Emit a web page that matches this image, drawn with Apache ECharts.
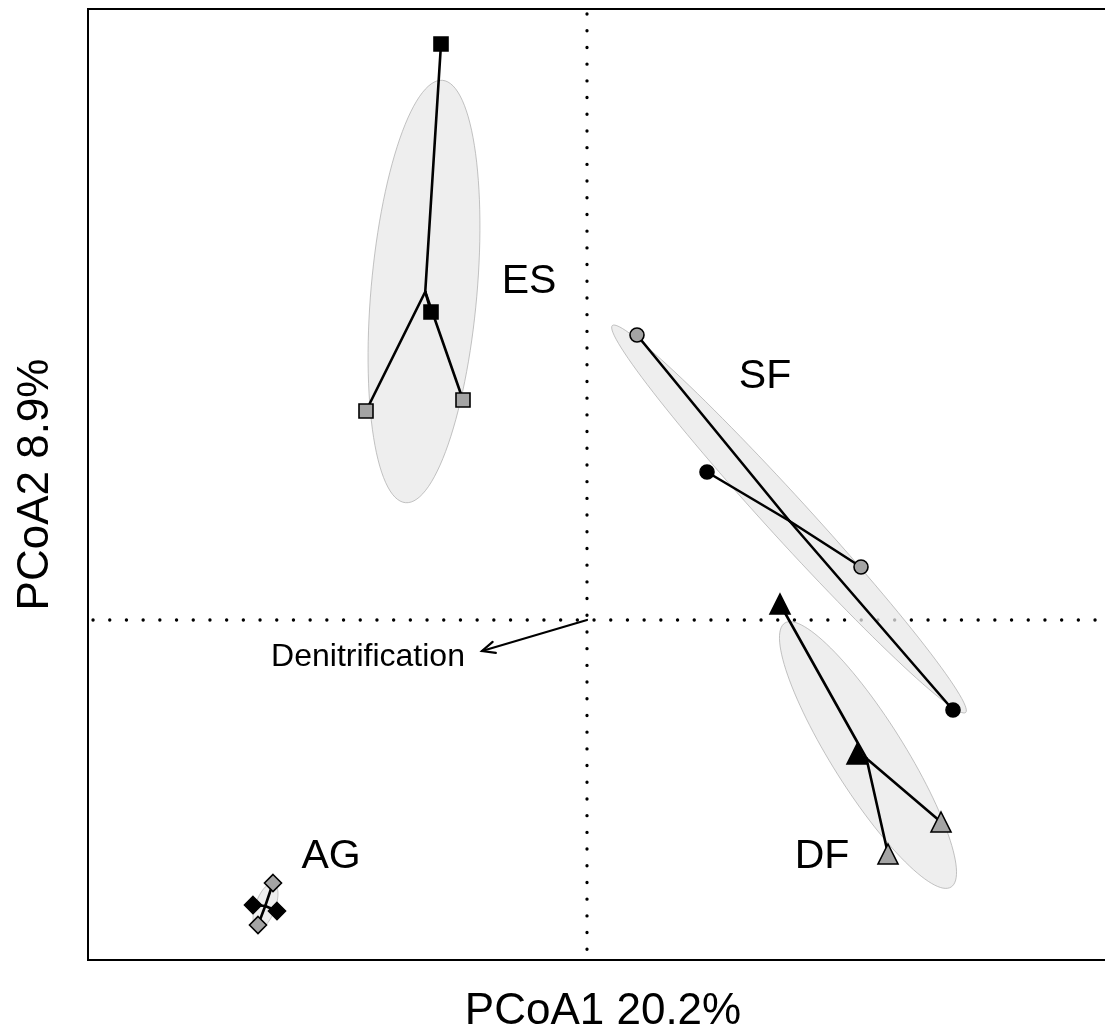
<!DOCTYPE html>
<html>
<head>
<meta charset="utf-8">
<script src="https://cdn.jsdelivr.net/npm/echarts@6/dist/echarts.min.js"></script>
<style>
  html, body { margin: 0; padding: 0; background: #fff; overflow: hidden; }
  #chart { width: 1105px; height: 1035px; }
</style>
</head>
<body>
<div id="chart"></div>
<script>
// Group names and the symbol used for each
const groupNames = ['ES', 'SF', 'DF', 'AG'];
const groupSymbols = ['rect', 'circle', 'triangle', 'diamond'];

// PCoA scores (axis 1, axis 2) for the samples of each group
const ES_x = [-0.146, -0.156, -0.221, -0.124];
const ES_y = [0.576, 0.308, 0.209, 0.220];
const SF_x = [0.050, 0.120, 0.274, 0.366];
const SF_y = [0.285, 0.148, 0.053, -0.090];
const DF_x = [0.193, 0.270, 0.354, 0.301];
const DF_y = [0.016, -0.134, -0.202, -0.234];
const AG_x = [-0.314, -0.334, -0.310, -0.329];
const AG_y = [-0.263, -0.285, -0.291, -0.305];

// Sampling set of each point: 1 = filled dark, 2 = filled light
const ES_set = [1, 1, 2, 2];
const SF_set = [2, 1, 2, 1];
const DF_set = [1, 1, 2, 2];
const AG_set = [2, 1, 1, 2];

// Dispersion ellipses: centre, semi-axes and rotation (degrees)
const ell_cx = [-0.163, 0.202, 0.281, -0.3215];
const ell_cy = [0.3285, 0.101, -0.135, -0.286];
const ell_a = [0.212, 0.262, 0.156, 0.024];
const ell_b = [0.053, 0.021, 0.036, 0.010];
const ell_angle = [85, -47.6, -57.8, 70];

// Group label positions
const label_x = [-0.058, 0.178, 0.235, -0.256];
const label_y = [0.338, 0.243, -0.237, -0.237];

// Fitted environmental vector
const vector_name = 'Denitrification';
const vector_end = [-0.105, -0.031];
const vector_label = [-0.219, -0.037];

// Axis titles and ranges
const xTitle = 'PCoA1 20.2%';
const yTitle = 'PCoA2 8.9%';
const xRange = [-0.499, 0.531];
const yRange = [-0.340, 0.611];

const groupsX = [ES_x, SF_x, DF_x, AG_x];
const groupsY = [ES_y, SF_y, DF_y, AG_y];
const groupsSet = [ES_set, SF_set, DF_set, AG_set];

const FONT = '"Liberation Sans", Arial, Helvetica, sans-serif';
const chart = echarts.init(document.getElementById('chart'), null, { renderer: 'canvas' });

const mean = arr => arr.reduce((s, v) => s + v, 0) / arr.length;

// spider segments: centroid -> each sample
const spiderData = [];
groupsX.forEach((xs, g) => {
  const cx = mean(xs), cy = mean(groupsY[g]);
  xs.forEach((x, i) => spiderData.push([x, groupsY[g][i], cx, cy]));
});

const ellipseData = ell_cx.map((cx, i) => [cx, ell_cy[i], ell_a[i], ell_b[i], ell_angle[i]]);

const series = [];

// reference lines through the origin
series.push({
  type: 'custom',
  z: 1,
  silent: true,
  data: [[0, 0]],
  renderItem: function (params, api) {
    const style = { stroke: '#000', lineWidth: 3.3, lineDash: [0.1, 16.6], lineCap: 'round' };
    const h0 = api.coord([xRange[0], 0]), h1 = api.coord([xRange[1], 0]);
    const v0 = api.coord([0, yRange[0]]), v1 = api.coord([0, yRange[1]]);
    return {
      type: 'group',
      children: [
        { type: 'line', shape: { x1: h0[0] + 5, y1: h0[1], x2: h1[0], y2: h1[1] }, style: style },
        { type: 'line', shape: { x1: v1[0], y1: v1[1] + 5, x2: v0[0], y2: v0[1] }, style: style }
      ]
    };
  }
});

// dispersion ellipses
series.push({
  type: 'custom',
  z: 2,
  silent: true,
  clip: true,
  data: ellipseData,
  renderItem: function (params, api) {
    const cx = api.value(0), cy = api.value(1), a = api.value(2), b = api.value(3);
    const ang = api.value(4) * Math.PI / 180;
    const pts = [];
    const n = 120;
    for (let k = 0; k < n; k++) {
      const t = k / n * Math.PI * 2;
      const x = cx + a * Math.cos(ang) * Math.cos(t) - b * Math.sin(ang) * Math.sin(t);
      const y = cy + a * Math.sin(ang) * Math.cos(t) + b * Math.cos(ang) * Math.sin(t);
      pts.push(api.coord([x, y]));
    }
    return {
      type: 'polygon',
      shape: { points: pts },
      style: { fill: 'rgba(232,232,232,0.75)', stroke: 'rgba(170,170,170,0.7)', lineWidth: 1 }
    };
  }
});

// spider lines
series.push({
  type: 'custom',
  z: 3,
  silent: true,
  data: spiderData,
  renderItem: function (params, api) {
    const p = api.coord([api.value(0), api.value(1)]);
    const c = api.coord([api.value(2), api.value(3)]);
    return {
      type: 'line',
      shape: { x1: c[0], y1: c[1], x2: p[0], y2: p[1] },
      style: { stroke: '#000', lineWidth: 2.6, lineCap: 'round' }
    };
  }
});

// sample markers
const symbolSizes = { rect: 14, circle: 14, triangle: 20, diamond: 17 };
groupNames.forEach((name, g) => {
  [1, 2].forEach(set => {
    const pts = [];
    groupsX[g].forEach((x, i) => {
      if (groupsSet[g][i] === set) pts.push([x, groupsY[g][i]]);
    });
    series.push({
      type: 'scatter',
      name: name + '-' + set,
      z: 4,
      silent: true,
      symbol: groupSymbols[g],
      symbolSize: symbolSizes[groupSymbols[g]],
      data: pts,
      itemStyle: {
        color: set === 1 ? '#000' : '#a4a4a4',
        borderColor: '#000',
        borderWidth: 1.6,
        opacity: 1
      }
    });
  });
});

// vector arrow with open head
series.push({
  type: 'custom',
  z: 5,
  silent: true,
  data: [[0, 0, vector_end[0], vector_end[1]]],
  renderItem: function (params, api) {
    const s = api.coord([api.value(0), api.value(1)]);
    const e = api.coord([api.value(2), api.value(3)]);
    const dir = Math.atan2(e[1] - s[1], e[0] - s[0]);
    const len = 14, spread = 0.42;
    const h1 = [e[0] - len * Math.cos(dir - spread), e[1] - len * Math.sin(dir - spread)];
    const h2 = [e[0] - len * Math.cos(dir + spread), e[1] - len * Math.sin(dir + spread)];
    const st = { stroke: '#000', lineWidth: 2.2, lineCap: 'round', fill: null };
    return {
      type: 'group',
      children: [
        { type: 'line', shape: { x1: s[0], y1: s[1], x2: e[0], y2: e[1] }, style: st },
        { type: 'polyline', shape: { points: [h1, e, h2] }, style: st }
      ]
    };
  }
});

// group labels and vector label
const textData = label_x.map((x, i) => [x, label_y[i], i]);
series.push({
  type: 'custom',
  z: 6,
  silent: true,
  data: textData.concat([[vector_label[0], vector_label[1], -1]]),
  renderItem: function (params, api) {
    const p = api.coord([api.value(0), api.value(1)]);
    const idx = api.value(2);
    const isVec = idx < 0;
    return {
      type: 'text',
      x: p[0],
      y: p[1],
      style: {
        text: isVec ? vector_name : groupNames[idx],
        fill: '#000',
        font: (isVec ? '32px ' : '41px ') + FONT,
        align: 'center',
        verticalAlign: 'middle'
      }
    };
  }
});

const option = {
  animation: false,
  backgroundColor: '#fff',
  grid: {
    left: 88,
    top: 9,
    width: 1030,
    height: 951,
    containLabel: false,
    outerBoundsMode: 'none',
    show: true,
    borderColor: '#000',
    borderWidth: 2,
    backgroundColor: 'transparent'
  },
  xAxis: {
    type: 'value',
    min: xRange[0],
    max: xRange[1],
    name: xTitle,
    nameLocation: 'middle',
    nameGap: 30,
    nameTextStyle: { fontSize: 44, color: '#000', fontFamily: FONT },
    axisLine: { show: false },
    axisTick: { show: false },
    axisLabel: { show: false },
    splitLine: { show: false }
  },
  yAxis: {
    type: 'value',
    min: yRange[0],
    max: yRange[1],
    name: yTitle,
    nameLocation: 'middle',
    nameGap: 30,
    nameTextStyle: { fontSize: 44, color: '#000', fontFamily: FONT },
    axisLine: { show: false },
    axisTick: { show: false },
    axisLabel: { show: false },
    splitLine: { show: false }
  },
  series: series
};

chart.setOption(option);
</script>
</body>
</html>
